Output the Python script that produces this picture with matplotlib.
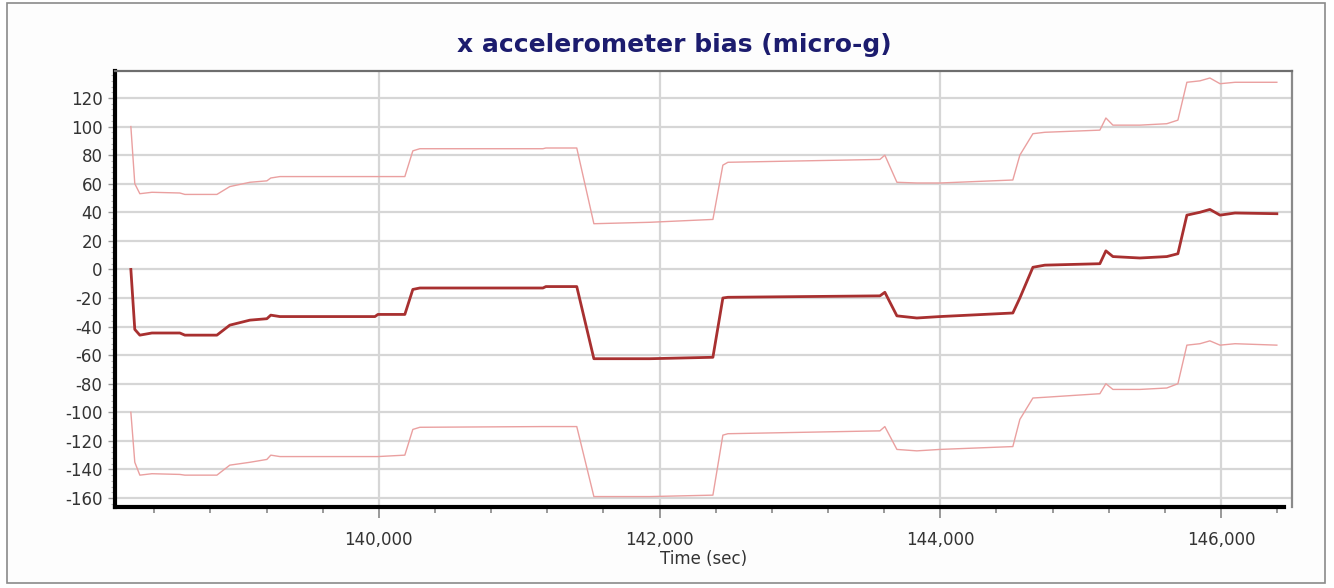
import numpy as np
import matplotlib
matplotlib.use("Agg")
import matplotlib.pyplot as plt
from matplotlib.ticker import MultipleLocator, FuncFormatter
from matplotlib.patches import Rectangle

plt.rcParams['axes.unicode_minus'] = False

# time stamps (sec) of the digitised knots
time_s = [138233, 138261, 138297, 138383, 138582, 138618, 138846, 138938, 139081, 139202,
          139230, 139295, 139972, 139993, 140185, 140242, 140292, 141169, 141190, 141410,
          141532, 141931, 142380, 142451, 142487, 143570, 143605, 143691, 143833, 143997,
          144517, 144567, 144660, 144745, 145137, 145180, 145230, 145422, 145614, 145693,
          145757, 145850, 145921, 145993, 146100, 146398]

# bias estimate (micro-g)
bias = [0, -42, -46, -44.5, -44.5, -46, -46, -39, -35.5, -34.5,
        -32, -33, -33, -31.5, -31.5, -14, -13, -13, -12, -12,
        -62.5, -62.5, -61.5, -20, -19.5, -18.5, -16, -32.5, -34, -33,
        -30.5, -20, 1.5, 3, 4, 13, 9, 8, 9, 11,
        38, 40, 42, 38, 39.5, 39]

# upper bound
upper = [100, 60, 53, 54, 53.5, 52.5, 52.5, 58, 61, 62,
         64, 65, 65, 65, 65, 83, 84.5, 84.5, 85, 85,
         32, 33, 35, 73, 75, 77, 80, 61, 60.5, 60.5,
         62.6, 80, 95, 96, 97.5, 106, 101, 101, 102, 104.5,
         131, 132, 134, 130, 131, 131]

# lower bound
lower = [-100, -135, -144, -143, -143.5, -144, -144, -137, -135, -133,
         -130, -131, -131, -131, -130, -112, -110.5, -110, -110, -110,
         -159, -159, -158, -116, -115, -113, -110, -126, -127, -126,
         -124, -105, -90, -89.5, -87, -80, -84, -84, -83, -80,
         -53, -52, -50, -53, -52, -53]

W, H = 1334, 588
fig = plt.figure(figsize=(W / 100, H / 100), dpi=100)
fig.patch.set_facecolor("white")

# outer frame of the chart panel
fig.patches.append(Rectangle((7 / W, 1 - 583 / H), (1325 - 7) / W, (583 - 3) / H,
                             transform=fig.transFigure, facecolor="#fdfdfd",
                             edgecolor="#8a8a8a", lw=1.2, zorder=-5))

ax = fig.add_axes([115 / W, 1 - 507 / H, (1292 - 115) / W, (507 - 71) / H])
ax.set_zorder(2)
ax.set_facecolor("white")

ax.plot(time_s, upper, color="#eaa0a0", lw=1.0, zorder=3)
ax.plot(time_s, lower, color="#eaa0a0", lw=1.0, zorder=3)
ax.plot(time_s, bias, color="#a83030", lw=2.0, zorder=4)

ax.set_xlim(138120, 146506)
ax.set_ylim(-166.3, 138.9)

ax.xaxis.set_major_locator(MultipleLocator(2000))
ax.xaxis.set_minor_locator(MultipleLocator(400))
ax.yaxis.set_major_locator(MultipleLocator(20))
ax.yaxis.set_minor_locator(MultipleLocator(4))
ax.xaxis.set_major_formatter(FuncFormatter(lambda v, p: "{:,.0f}".format(v)))

ax.grid(True, which="major", color="#d6d6d6", lw=1.6)
ax.set_axisbelow(True)

ax.tick_params(axis="x", which="major", length=8, width=1.2, color="#888888",
               labelsize=12, labelcolor="#333333", pad=9)
ax.tick_params(axis="x", which="minor", length=4, width=1.2, color="#888888")
ax.tick_params(axis="y", which="major", length=5, width=1.0, color="#999999",
               labelsize=12, labelcolor="#333333", pad=4)
ax.tick_params(axis="y", which="minor", length=3, width=0.8, color="#bbbbbb")

ax.spines["left"].set_color("black")
ax.spines["left"].set_linewidth(3)
ax.spines["bottom"].set_color("black")
ax.spines["bottom"].set_linewidth(3)
ax.spines["bottom"].set_bounds(138120, 146450)
ax.spines["top"].set_color("#6e6e6e")
ax.spines["top"].set_linewidth(1.6)
ax.spines["right"].set_color("#8a8a8a")
ax.spines["right"].set_linewidth(1.6)

ax.set_xlabel("Time (sec)", fontsize=12, color="#333333", labelpad=1)

fig.text(674 / W, 1 - 45 / H, "x accelerometer bias (micro-g)", ha="center", va="center",
         fontsize=18, fontweight="bold", color="#1c1c6e")

fig.savefig("out.png", dpi=100)
